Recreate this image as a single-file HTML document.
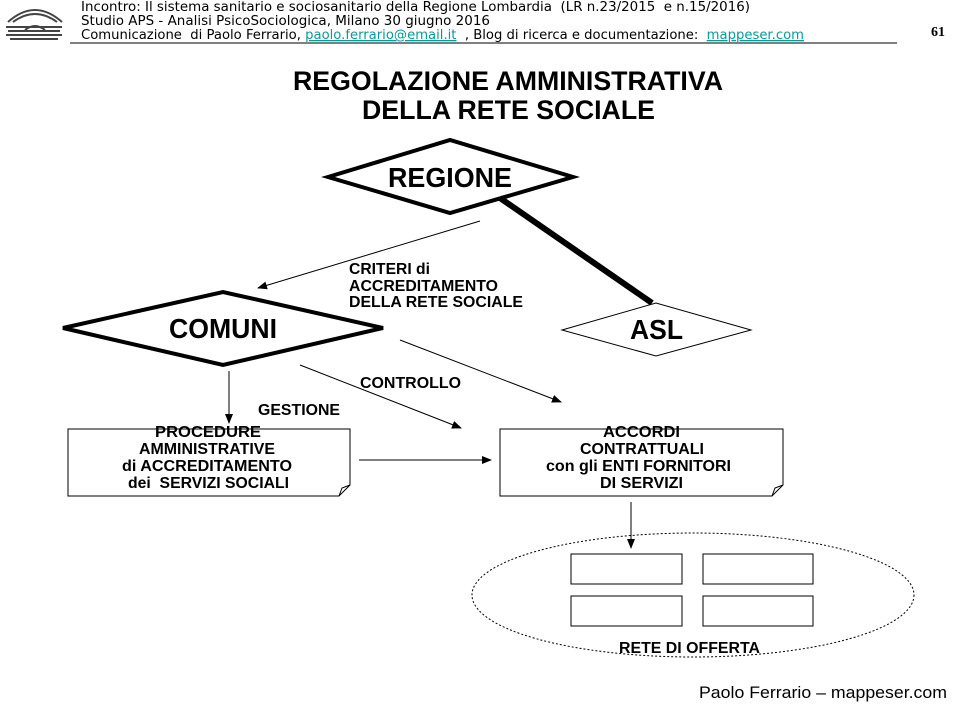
<!DOCTYPE html>
<html><head><meta charset="utf-8"><style>
html,body{margin:0;padding:0;background:#fff;}
body{width:960px;height:720px;position:relative;overflow:hidden;font-family:"Liberation Sans",sans-serif;}
</style></head><body>
<svg width="960" height="720" style="position:absolute;left:0;top:0" font-family="Liberation Sans, sans-serif">
<defs><marker id="a" markerWidth="10" markerHeight="8" refX="9" refY="4" orient="auto" markerUnits="userSpaceOnUse"><path d="M0,0 L10,4 L0,8 z" fill="#000"/></marker></defs>
<g font-family="DejaVu Sans, sans-serif" font-size="13">
<text x="81" y="11" textLength="669" lengthAdjust="spacingAndGlyphs">Incontro: Il sistema sanitario e sociosanitario della Regione Lombardia &#160;(LR n.23/2015 &#160;e n.15/2016)</text>
<text x="81" y="25" textLength="409" lengthAdjust="spacingAndGlyphs">Studio APS - Analisi PsicoSociologica, Milano 30 giugno 2016</text>
<text x="81" y="39" textLength="723" lengthAdjust="spacingAndGlyphs">Comunicazione &#160;di Paolo Ferrario, <tspan fill="#0a9a9a" text-decoration="underline">paolo.ferrario@email.it</tspan> &#160;, Blog di ricerca e documentazione: &#160;<tspan fill="#0a9a9a" text-decoration="underline">mappeser.com</tspan></text>
</g>
<g fill="none" stroke="#444" stroke-width="2">
<path d="M8,22 Q35,-2 62,22"/><path d="M13,22 Q35,6 57,22"/>
<path d="M6,27 L62,27 M8,31 L60,31 M6,35 L62,35 M10,39 L58,39"/>
<path d="M25,30 Q35,22 45,30"/>
</g>
<line x1="70" y1="43" x2="897" y2="43" stroke="#000"/>
<text x="931" y="36" font-size="14" font-weight="bold" font-family="Liberation Serif, serif">61</text>
<text x="293" y="90" font-size="27" font-weight="bold" textLength="430" lengthAdjust="spacingAndGlyphs">REGOLAZIONE AMMINISTRATIVA</text>
<text x="362" y="119" font-size="27" font-weight="bold" textLength="293" lengthAdjust="spacingAndGlyphs">DELLA RETE SOCIALE</text>
<polygon points="328,177 450,140 573,177 450,213" fill="#fff" stroke="#000" stroke-width="4"/>
<text x="388" y="187" font-size="28" font-weight="bold" textLength="124" lengthAdjust="spacingAndGlyphs">REGIONE</text>
<line x1="500" y1="198" x2="652" y2="303" stroke="#000" stroke-width="6"/>
<polygon points="63,328 223,292 383,328 223,365" fill="#fff" stroke="#000" stroke-width="4"/>
<text x="169" y="338" font-size="28" font-weight="bold" textLength="108" lengthAdjust="spacingAndGlyphs">COMUNI</text>
<polygon points="562,330 656,303 751,330 656,356" fill="#fff" stroke="#000" stroke-width="1"/>
<text x="630" y="339" font-size="28" font-weight="bold" textLength="53" lengthAdjust="spacingAndGlyphs">ASL</text>
<g stroke="#000" stroke-width="1" marker-end="url(#a)">
<line x1="480" y1="221" x2="258" y2="288"/>
<line x1="229" y1="371" x2="229" y2="423"/>
<line x1="300" y1="365" x2="461" y2="428"/>
<line x1="400" y1="340" x2="561" y2="402"/>
<line x1="359" y1="460" x2="491" y2="460"/>
<line x1="631" y1="502" x2="631" y2="548"/>
</g>
<g font-size="16" font-weight="bold">
<text x="349" y="274" textLength="81" lengthAdjust="spacingAndGlyphs">CRITERI di</text>
<text x="349" y="291" textLength="149" lengthAdjust="spacingAndGlyphs">ACCREDITAMENTO</text>
<text x="349" y="307" textLength="174" lengthAdjust="spacingAndGlyphs">DELLA RETE SOCIALE</text>
<text x="360" y="388" textLength="101" lengthAdjust="spacingAndGlyphs">CONTROLLO</text>
<text x="258" y="415" textLength="82" lengthAdjust="spacingAndGlyphs">GESTIONE</text>
</g>
<path d="M68,429 H350 V485 L339,496 H68 Z" fill="#fff" stroke="#000"/>
<path d="M339,496 L342,488 L350,485" fill="none" stroke="#000"/>
<path d="M500,429 H783 V485 L772,496 H500 Z" fill="#fff" stroke="#000"/>
<path d="M772,496 L775,488 L783,485" fill="none" stroke="#000"/>
<g font-size="16" font-weight="bold">
<text x="155" y="437" textLength="106" lengthAdjust="spacingAndGlyphs">PROCEDURE</text>
<text x="139" y="454" textLength="136" lengthAdjust="spacingAndGlyphs">AMMINISTRATIVE</text>
<text x="122" y="471" textLength="170" lengthAdjust="spacingAndGlyphs">di ACCREDITAMENTO</text>
<text x="128" y="488" textLength="161" lengthAdjust="spacingAndGlyphs">dei &#160;SERVIZI SOCIALI</text>
<text x="603" y="437" textLength="77" lengthAdjust="spacingAndGlyphs">ACCORDI</text>
<text x="580" y="454" textLength="124" lengthAdjust="spacingAndGlyphs">CONTRATTUALI</text>
<text x="546" y="471" textLength="185" lengthAdjust="spacingAndGlyphs">con gli ENTI FORNITORI</text>
<text x="600" y="488" textLength="83" lengthAdjust="spacingAndGlyphs">DI SERVIZI</text>
<text x="619" y="653" textLength="141" lengthAdjust="spacingAndGlyphs">RETE DI OFFERTA</text>
</g>
<ellipse cx="693" cy="595" rx="221" ry="62" fill="none" stroke="#000" stroke-dasharray="2,2"/>
<g fill="#fff" stroke="#000">
<rect x="571" y="554" width="111" height="30"/>
<rect x="703" y="554" width="110" height="30"/>
<rect x="571" y="596" width="111" height="30"/>
<rect x="703" y="596" width="110" height="30"/>
</g>
<text x="699" y="698" font-size="17" textLength="248" lengthAdjust="spacingAndGlyphs">Paolo Ferrario – mappeser.com</text>
</svg>
</body></html>
